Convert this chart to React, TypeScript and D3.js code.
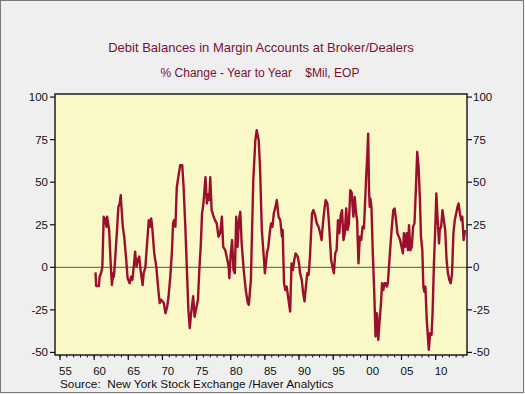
import React from "react";
import * as d3 from "d3";

const title = "Debit Balances in Margin Accounts at Broker/Dealers";
const subtitle = "% Change - Year to Year    $Mil, EOP";
const source = "Source:  New York Stock Exchange /Haver Analytics";

const yTicks = [-50, -25, 0, 25, 50, 75, 100];
const xTickYears = [1955, 1960, 1965, 1970, 1975, 1980, 1985, 1990, 1995, 2000, 2005, 2010];
const xTickLabels = ["55", "60", "65", "70", "75", "80", "85", "90", "95", "00", "05", "10"];

const dates = [
  1960.2, 1960.3, 1960.7, 1960.8, 1961.0, 1961.2, 1961.4, 1961.55, 1961.7, 1961.8, 1961.9,
  1962.2, 1962.4, 1962.6, 1962.8, 1962.9, 1963.1, 1963.35, 1963.55, 1963.75, 1963.9, 1964.0,
  1964.2, 1964.4, 1964.7, 1964.9, 1965.2, 1965.4, 1965.6, 1965.8, 1966.0, 1966.2, 1966.4,
  1966.6, 1966.8, 1967.1, 1967.25, 1967.5, 1967.75, 1968.0, 1968.15, 1968.35, 1968.5, 1968.8,
  1969.1, 1969.4, 1969.6, 1969.8, 1970.0, 1970.2, 1970.45, 1970.7, 1970.9, 1971.15, 1971.4,
  1971.55, 1971.7, 1971.9, 1972.1, 1972.4, 1972.6, 1972.9, 1973.1, 1973.35, 1973.6, 1973.8,
  1974.0, 1974.2, 1974.5, 1974.7, 1975.0, 1975.2, 1975.4, 1975.6, 1975.8, 1976.0, 1976.3,
  1976.5, 1976.7, 1976.85, 1977.0, 1977.2, 1977.5, 1977.7, 1977.95, 1978.2, 1978.45, 1978.7,
  1978.9, 1979.2, 1979.4, 1979.7, 1979.8, 1980.0, 1980.2, 1980.4, 1980.6, 1980.8, 1981.0,
  1981.2, 1981.4, 1981.6, 1981.9, 1982.2, 1982.5, 1982.65, 1982.95, 1983.1, 1983.3, 1983.6,
  1983.8, 1984.1, 1984.3, 1984.55, 1984.8, 1985.0, 1985.3, 1985.5, 1985.7, 1985.9, 1986.1,
  1986.3, 1986.55, 1986.75, 1987.0, 1987.25, 1987.5, 1987.6, 1987.8, 1988.0, 1988.2, 1988.45,
  1988.7, 1988.9, 1989.1, 1989.3, 1989.5, 1989.8, 1990.0, 1990.15, 1990.4, 1990.6, 1990.8,
  1991.0, 1991.2, 1991.4, 1991.6, 1991.9, 1992.1, 1992.35, 1992.6, 1992.85, 1993.1, 1993.3,
  1993.5, 1993.7, 1993.9, 1994.15, 1994.35, 1994.5, 1994.7, 1994.9, 1995.1, 1995.3, 1995.5,
  1995.7, 1995.9, 1996.1, 1996.3, 1996.5, 1996.7, 1996.9, 1997.1, 1997.3, 1997.5, 1997.7,
  1997.95, 1998.15, 1998.35, 1998.5, 1998.7, 1998.9, 1999.1, 1999.3, 1999.5, 1999.66, 1999.85,
  2000.0, 2000.12, 2000.25, 2000.35, 2000.45, 2000.6, 2000.8, 2001.0, 2001.2, 2001.4, 2001.6,
  2001.8, 2002.0, 2002.15, 2002.35, 2002.5, 2002.7, 2002.85, 2003.0, 2003.3, 2003.55, 2003.8,
  2004.0, 2004.2, 2004.4, 2004.6, 2004.8, 2005.0, 2005.2, 2005.35, 2005.55, 2005.75, 2005.95,
  2006.1, 2006.3, 2006.5, 2006.7, 2006.9, 2007.1, 2007.3, 2007.5, 2007.7, 2007.85, 2008.05,
  2008.2, 2008.35, 2008.5, 2008.7, 2008.9, 2009.0, 2009.2, 2009.4, 2009.55, 2009.75, 2009.95,
  2010.1, 2010.3, 2010.5, 2010.6, 2010.8, 2011.0, 2011.2, 2011.4, 2011.6, 2011.8, 2012.0,
  2012.2, 2012.4, 2012.6, 2012.8, 2013.0, 2013.2, 2013.35, 2013.55, 2013.75, 2013.9, 2014.1,
  2014.3,
];

const pctChange = [
  -3, -11, -11, -5.5, -3.5, 0, 29.7, 25.8, 28.7, 23.8, 29.7,
  21.9, 4.3, -10.4, -3.5, -5.5, 6.3, 21.9, 35.5, 37.5, 42.4, 35.5,
  23.8, 18, 4.3, -6.4, -9.4, -5.5, -7.4, 0.4, 9.2, 0.4, 4.3,
  6.3, -1.6, -10.4, -3.5, 0, 14, 27.7, 23.8, 28.7, 23.8, 8.2,
  0.4, -13.3, -21, -19, -20, -21, -27, -23, -17, -5.5, 10,
  25.8, 27.7, 23.8, 47, 55, 60, 60, 47, 23.8, -3.5, -25,
  -35.7, -27, -17, -29, -23, -19, -1.6, 12, 31.6, 37.5, 53,
  37.5, 43, 39.5, 53, 33.6, 29.7, 27.7, 25.8, 18, 20, 29.7,
  12, 10, 6.3, 0.4, -6.4, 8.2, 16, -1.6, -3.5, 29.7, 12,
  27.7, 32.6, 14, -1.6, -13.3, -21, -22, -7.4, 18, 51, 74.6,
  80.5, 74.6, 57, 21.9, 8.2, -3.5, 8.2, 12, 20, 25.8, 23.8,
  31.6, 35.5, 39.5, 29.7, 27.7, 18, 21.9, -9.4, -13.3, -11.3, -19,
  -26, 2.3, -1.6, 4.3, 8.2, 6.3, 2.3, -3.5, -7.4, -15, -20,
  -11.3, -3.5, -4.5, 6.3, 31.6, 33.6, 30.7, 25.8, 23.8, 20, 16,
  25.8, 33.6, 39.5, 37.5, 27.7, 18, 4.3, 0.4, -3.5, 8.2, 10,
  27.7, 20, 30.7, 33.6, 16, 20, 34.6, 21.9, 25.8, 45.3, 44,
  29.7, 41.4, 31.6, 27.7, 2.3, 18, 16, 23.8, 22.9, 37.5, 55,
  66, 78.5, 45, 35.5, 40.4, 35.5, 8.2, -13.3, -40.6, -27, -42.6,
  -31, -21, -9.4, -13.3, -9.4, -9.4, -11.3, -9.4, 8.2, 21.9, 33.6,
  34.6, 27.7, 20, 18, 16, 12, 8.2, 20, 12, 20, 10,
  24.8, 10, 12, 23.8, 25.8, 45.3, 67.8, 59, 39.5, 18, 10,
  -11.3, -14.3, -11.3, -31, -42.6, -48.4, -38.7, -39.6, -27, 2.3, 23.8,
  43.4, 27.7, 14, 21.9, 23.8, 33.6, 27.7, 21.9, 4.3, -3.5, -7.4,
  -9.4, -3.5, 20, 27.7, 31.6, 35.5, 37.5, 31.6, 27.7, 29.7, 16,
  21.9,
];

const W = 525;
const H = 394;
const left = 55;
const right = 467;
const top = 94;
const bottom = 355;

export default function App() {
  const x = d3.scaleLinear().domain([1954.27, 2014.59]).range([left, right]);
  const y = d3.scaleLinear().domain([-51.5, 101.8]).range([bottom, top]);
  const pts = dates.map((d, i) => [d, pctChange[i]] as [number, number]);
  const line = d3
    .line<[number, number]>()
    .x((d) => x(d[0]))
    .y((d) => y(d[1]))
    .curve(d3.curveLinear);
  const minorYears = d3.range(1955, 2015);
  const font = "'Liberation Sans', Arial, sans-serif";
  const red = "#9a0f2b";
  const titleColor = "#7b1133";

  return (
    <svg
      width={W}
      height={H}
      style={{ position: "absolute", left: 0, top: 0, display: "block" }}
      fontFamily={font}
    >
      <rect x={0} y={0} width={W} height={H} fill="#efefef" />
      <rect x={0.5} y={0.5} width={W - 2} height={H - 2} fill="none" stroke="#7a7a7a" strokeWidth={1} />
      <text x={261} y={52} textAnchor="middle" fontSize={13} fill={titleColor}>
        {title}
      </text>
      <text x={260} y={77} textAnchor="middle" fontSize={12} fill={titleColor} style={{ whiteSpace: "pre" }}>
        {subtitle}
      </text>
      <rect x={left} y={top} width={right - left} height={bottom - top} fill="#fbf8c8" />
      <line x1={left} x2={right} y1={y(0)} y2={y(0)} stroke="#555" strokeWidth={1} />
      <path d={line(pts) || ""} fill="none" stroke={red} strokeWidth={2.4} strokeLinejoin="round" />
      <rect x={left} y={top} width={right - left} height={bottom - top} fill="none" stroke="#111" strokeWidth={1.4} />
      {yTicks.map((t) => (
        <g key={t}>
          <line x1={left - 5} x2={left} y1={y(t)} y2={y(t)} stroke="#111" strokeWidth={1.2} />
          <line x1={right} x2={right + 5} y1={y(t)} y2={y(t)} stroke="#111" strokeWidth={1.2} />
          <text x={left - 7} y={y(t) + 4} textAnchor="end" fontSize={11.5} fill="#111">
            {t}
          </text>
          <text x={right + 6} y={y(t) + 4} textAnchor="start" fontSize={11.5} fill="#111">
            {t}
          </text>
        </g>
      ))}
      {minorYears.map((yr) => (
        <line key={yr} x1={x(yr)} x2={x(yr)} y1={bottom} y2={bottom + 2.5} stroke="#111" strokeWidth={1} />
      ))}
      {xTickYears.map((yr, i) => (
        <g key={yr}>
          <line x1={x(yr)} x2={x(yr)} y1={bottom} y2={bottom + 5} stroke="#111" strokeWidth={1.2} />
          <text x={x(yr) - 1} y={375} textAnchor="start" fontSize={11.5} fill="#111">
            {xTickLabels[i]}
          </text>
        </g>
      ))}
      <text x={60} y={387.5} fontSize={11.8} fill="#111" style={{ whiteSpace: "pre" }}>
        {source}
      </text>
    </svg>
  );
}
